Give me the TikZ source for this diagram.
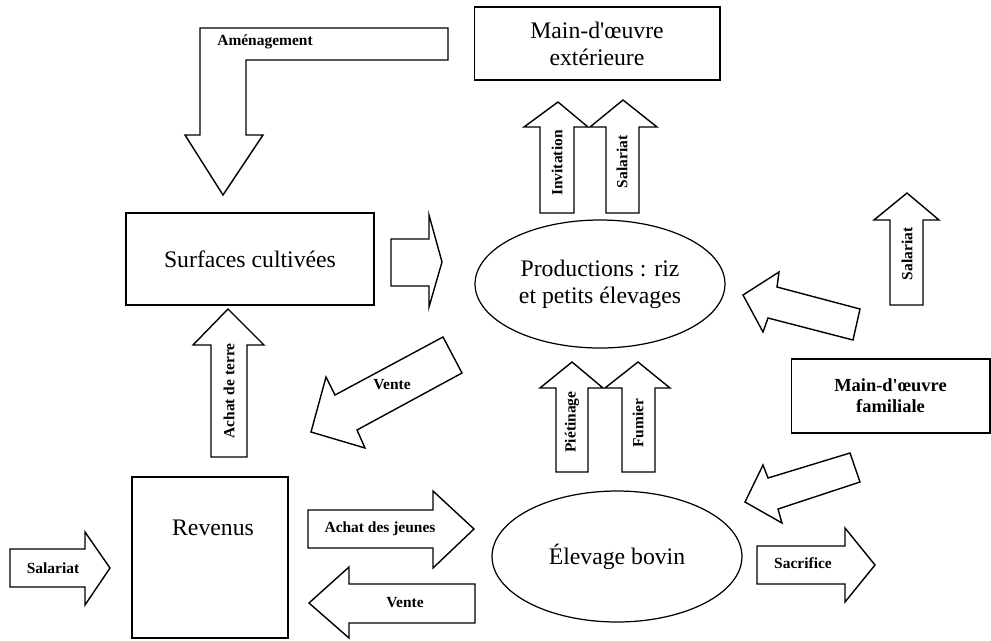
\documentclass[tikz,border=0pt]{standalone}
\usepackage{fontspec}
\setmainfont{Liberation Serif}
\usetikzlibrary{shapes.geometric}

\begin{document}
\begin{tikzpicture}[x=0.02cm, y=-0.02cm, line join=miter,
    box/.style={draw, line width=0.6pt, inner sep=0pt},
    oval/.style={draw, ellipse, line width=0.7pt, inner sep=0pt},
    big/.style={font=\fontsize{13.5}{15.5}\selectfont, align=center},
    blk/.style={draw, line width=0.8pt, fill=white},
    tag/.style={font=\fontsize{8.8}{10}\selectfont\bfseries, inner sep=1pt}]
    \useasboundingbox (0,0) rectangle (991,640);

    % Boxes
    \node[box, big, minimum width=4.92cm, minimum height=1.46cm] (ext) at (597,43.5) {Main-d\textquotesingle œuvre\\extérieure};
    \node[box, big, minimum width=4.96cm, minimum height=1.84cm] (surf) at (250,259) {Surfaces cultivées};
    \node[box, minimum width=3.98cm, minimum height=1.48cm, align=center,
          font=\fontsize{10.5}{12}\selectfont\bfseries] (fam) at (890.5,396) {Main-d\textquotesingle œuvre\\familiale};
    \node[box, minimum width=3.12cm, minimum height=3.22cm] (rev) at (210,557.5) {};
    \node[big] (revtxt) at (213,528) {Revenus};

    % Ellipses
    \node[oval, big, minimum width=5cm, minimum height=2.56cm] (prod) at (600,284) {Productions : riz\\et petits élevages};
    \node[oval, big, minimum width=5cm, minimum height=2.62cm] (bov) at (617,556.5) {Élevage bovin};

    % Amenagement (bent arrow)
    \draw[blk] (448,28) -- (200,28) -- (200,135) -- (185,135) -- (223,195) -- (263,135)
        -- (246,135) -- (246,60) -- (448,60) -- cycle;
    \node[tag] (amen) at (265,42) {Aménagement};

    % Arrows up to Main-d'oeuvre exterieure
    \draw[blk] (540,213) -- (540,127) -- (524,127) -- (558,102) -- (588,127) -- (574,127) -- (574,213) -- cycle;
    \node[tag, rotate=90] (invit) at (557,163) {Invitation};
    \draw[blk] (606,213) -- (606,127) -- (590,127) -- (623,100) -- (657,127) -- (639,127) -- (639,213) -- cycle;
    \node[tag, rotate=90] (salext) at (622,162) {Salariat};

    % Surfaces -> Productions
    \draw[blk] (391,239) -- (429,239) -- (429,215) -- (442,262) -- (429,307) -- (429,286) -- (391,286) -- cycle;

    % Achat de terre
    \draw[blk] (211,457) -- (211,345) -- (193,345) -- (228,309) -- (264,345) -- (247,345) -- (247,457) -- cycle;
    \node[tag, rotate=90] (terre) at (229,391) {Achat de terre};

    % Vente (Productions -> Revenus)
    \draw[blk] (443,337) -- (335,395) -- (326,377) -- (311,432) -- (365,448) -- (357,430) -- (462,373) -- cycle;
    \node[tag] (vente1) at (392,385) {Vente};

    % Pietinage, Fumier
    \draw[blk] (556,472) -- (556,388) -- (540,388) -- (572,362) -- (603,388) -- (588,388) -- (588,472) -- cycle;
    \node[tag, rotate=90] (piet) at (572,422) {Piétinage};
    \draw[blk] (622,472) -- (622,388) -- (605,388) -- (638,362) -- (670,388) -- (655,388) -- (655,472) -- cycle;
    \node[tag, rotate=90] (fum) at (638,423) {Fumier};

    % Salariat (right)
    \draw[blk] (890,305) -- (890,220) -- (874,220) -- (907,193) -- (939,220) -- (923,220) -- (923,305) -- cycle;
    \node[tag, rotate=90] (salfam) at (907,254) {Salariat};

    % Familiale -> Productions, Familiale -> Elevage
    \draw[blk] (743,295) -- (779,272) -- (777,287) -- (860,309) -- (853,340) -- (768,318) -- (763,332) -- cycle;
    \draw[blk] (745,502) -- (763,465) -- (768,478) -- (850,453) -- (860,482) -- (778,509) -- (782,523) -- cycle;

    % Sacrifice
    \draw[blk] (757,546) -- (845,546) -- (845,528) -- (875,565) -- (845,602) -- (845,584) -- (757,584) -- cycle;
    \node[tag] (sacr) at (803,563) {Sacrifice};

    % Salariat (left)
    \draw[blk] (10,549) -- (85,549) -- (85,532) -- (110,568) -- (85,605) -- (85,587) -- (10,587) -- cycle;
    \node[tag] (salrev) at (53,568) {Salariat};

    % Achat des jeunes, Vente
    \draw[blk] (308,510) -- (433,510) -- (433,491) -- (474,529) -- (433,568) -- (433,548) -- (308,548) -- cycle;
    \node[tag] (jeunes) at (380,529) {Achat des jeunes};
    \draw[blk] (475,584) -- (349,584) -- (349,567) -- (309,603) -- (349,638) -- (349,623) -- (475,623) -- cycle;
    \node[tag] (vente2) at (405,603) {Vente};

\end{tikzpicture}
\end{document}
